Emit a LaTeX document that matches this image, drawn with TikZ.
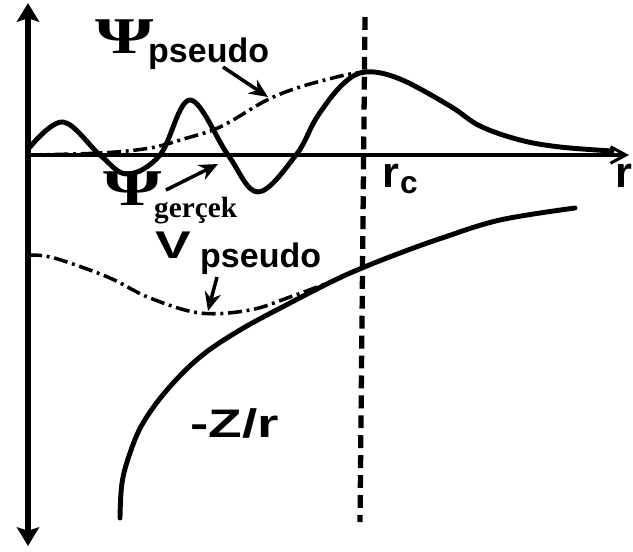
\documentclass[tikz,border=0pt]{standalone}
\usepackage{graphicx}
\usepackage{fontspec}
\setmainfont{Liberation Serif}
\setsansfont{Liberation Sans}
\usetikzlibrary{arrows.meta}
\newcommand{\fsz}[1]{\fontsize{#1}{#1}\selectfont}
\newcommand{\wide}[1]{\scalebox{1.38}[1]{#1}}
\newcommand{\widepsi}{\scalebox{1.45}[1]{Ψ}}

\begin{document}
\begin{tikzpicture}[
    x=0.03cm, y=-0.03cm,
    axis/.style={line width=4.4pt, {Stealth[length=16pt,width=19pt,inset=3pt]}-{Stealth[length=16pt,width=19pt,inset=3pt]}},
    raxis/.style={line width=3pt, -{Straight Barb[length=13pt,width=14pt,line width=2.6pt]}},
    wave/.style={line width=4.2pt, line join=round, line cap=round},
    pseudowave/.style={line width=3pt, dash pattern=on 12pt off 4pt on 2.5pt off 4pt},
    cutline/.style={line width=4.5pt, dash pattern=on 11pt off 6pt},
    lbl/.style={inner sep=0pt, anchor=base west, font=\sffamily\bfseries},
    greek/.style={inner sep=0pt, anchor=base west, font=\rmfamily\bfseries\fsz{44}},
    arrow/.style={line width=3pt, -{Stealth[length=16pt,width=14pt]}},
]
\useasboundingbox (0,0) rectangle (633,552);

% ---------------------------------------------------------------- axes ---
\coordinate (ytop) at (28,3);
\coordinate (ybot) at (28,546);
\coordinate (origin) at (28,155);
\coordinate (xend) at (629,155);
\draw[axis] (ybot) -- (ytop);
\draw[raxis] (origin) -- (xend);
\node[lbl, font=\sffamily\bfseries\fsz{37}] (rlbl) at (615,187) {r};

% ---------------------------------------------------------- cut radius ---
\coordinate (rctop) at (365,17);
\coordinate (rcbot) at (360,522);
\draw[cutline] (rctop) -- (rcbot);
\node[lbl, font=\sffamily\bfseries\fsz{37}] (rc) at (382,187) {r};
\node[lbl, font=\sffamily\bfseries\fsz{27}] (rcsub) at (400,193) {c};

% ------------------------------------------------------- wave functions ---
\draw[wave] plot[smooth, tension=0.6] coordinates {(30,147) (63,122) (100,155) (127,174) (160,155) (190,100) (228,155) (258,192) (296,155) (317,117) (343,84) (366,72) (400,79) (450,106) (480,126) (520,140) (560,147) (612,151)};
\draw[pseudowave] plot[smooth, tension=0.6] coordinates {(28,155) (100,153) (150,148) (187,138) (213,130) (233,120) (267,100) (300,87) (345,75) (366,72)};

\node[greek] (psip) at (95,53) {\widepsi};
\node[lbl, font=\sffamily\bfseries\fsz{29}] (psipsub) at (148,62) {pseudo};
\coordinate (pptail) at (223,67);
\coordinate (pptip) at (268,97);
\draw[arrow] (pptail) -- (pptip);

\node[greek] (psig) at (103,205) {\widepsi};
\node[lbl, font=\rmfamily\bfseries\fsz{25}] (psigsub) at (154,217) {gerçek};
\coordinate (pgtail) at (166,190);
\coordinate (pgtip) at (218,164);
\draw[arrow] (pgtail) -- (pgtip);

% ------------------------------------------------------------ potentials ---
\draw[wave] plot[smooth, tension=0.6] coordinates {(120,518) (122,483) (130,453) (143,423) (167,390) (200,357) (240,330) (290,303) (333,281) (362,268) (400,253) (442,238) (500,220) (575,208)};
\draw[pseudowave] plot[smooth, tension=0.6] coordinates {(28,255) (45,256) (67,262) (110,278) (150,298) (200,313) (250,310) (290,297) (333,281)};

\node[lbl, font=\sffamily\bfseries\fsz{33}] (vp) at (155,258) {\wide{V}};
\node[lbl, font=\sffamily\bfseries\fsz{29}] (vpsub) at (200,267) {pseudo};
\coordinate (vptail) at (217,277);
\coordinate (vptip) at (208,311);
\draw[arrow] (vptail) -- (vptip);

\node[lbl, font=\sffamily\bfseries\fsz{34}] (zr) at (190,437) {\wide{-Z/r}};

\end{tikzpicture}
\end{document}
